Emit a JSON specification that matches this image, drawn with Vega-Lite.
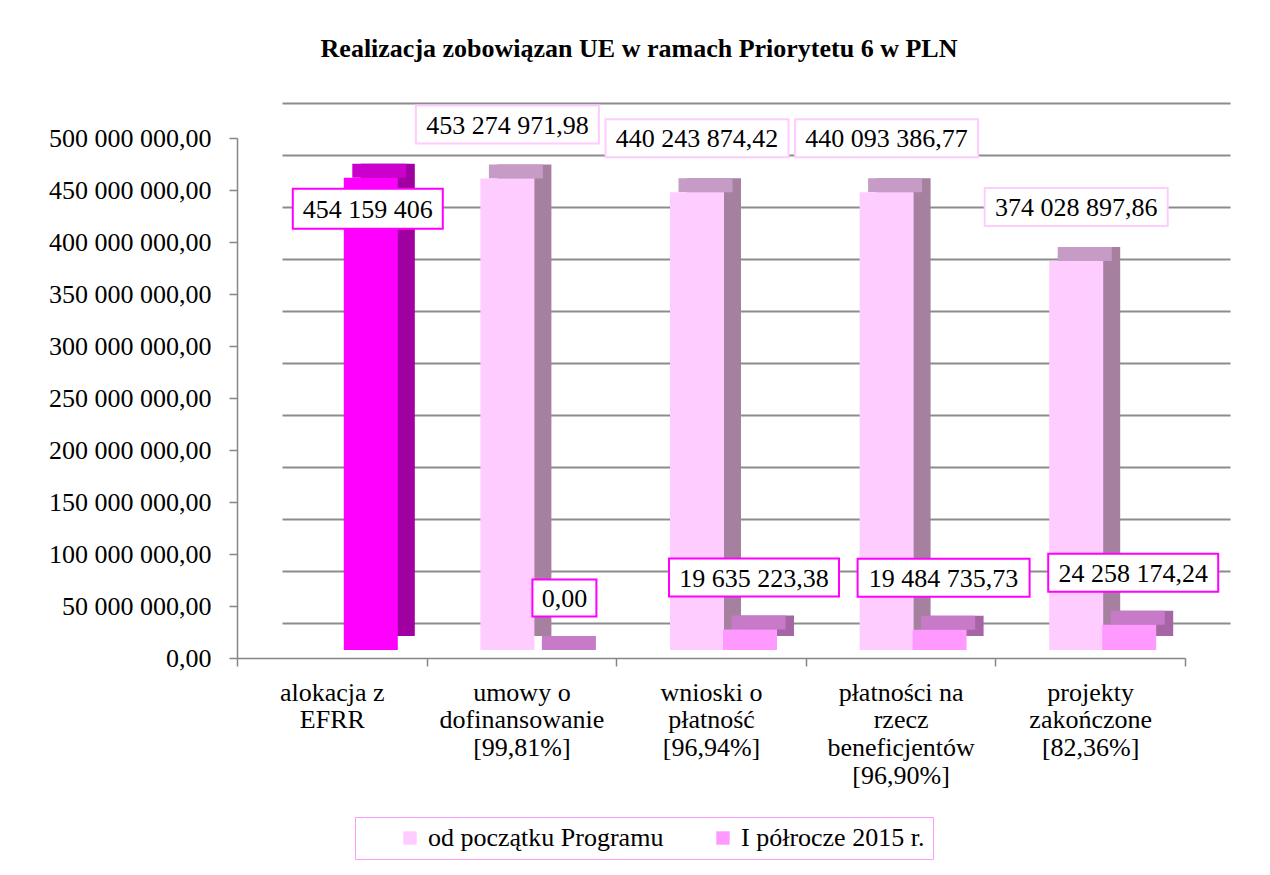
{
  "$schema": "https://vega.github.io/schema/vega-lite/v6.json",
  "width": 948,
  "height": 520,
  "autosize": {"type": "none"},
  "padding": {"left": 237, "top": 130, "right": 85, "bottom": 225},
  "background": "white",
  "title": {
    "text": "Realizacja zobowiązan UE w ramach Priorytetu 6 w PLN",
    "font": "Liberation Serif",
    "fontSize": 26,
    "fontWeight": "bold",
    "color": "black",
    "anchor": "middle",
    "dx": -72,
    "offset": 40
  },
  "config": {
    "locale": {"number": {"decimal": ",", "thousands": " ", "grouping": [3], "currency": ["", " zł"]}},
    "view": {"stroke": null},
    "font": "Liberation Serif"
  },
  "data": {
    "values": [
      {"category": "alokacja z\nEFRR", "series": "alokacja z EFRR", "value": 454159406},
      {"category": "umowy o\ndofinansowanie\n[99,81%]", "series": "od początku Programu", "value": 453274971.98},
      {"category": "umowy o\ndofinansowanie\n[99,81%]", "series": "I półrocze 2015 r.", "value": 0},
      {"category": "wnioski o\npłatność\n[96,94%]", "series": "od początku Programu", "value": 440243874.42},
      {"category": "wnioski o\npłatność\n[96,94%]", "series": "I półrocze 2015 r.", "value": 19635223.38},
      {"category": "płatności na\nrzecz\nbeneficjentów\n[96,90%]", "series": "od początku Programu", "value": 440093386.77},
      {"category": "płatności na\nrzecz\nbeneficjentów\n[96,90%]", "series": "I półrocze 2015 r.", "value": 19484735.73},
      {"category": "projekty\nzakończone\n[82,36%]", "series": "od początku Programu", "value": 374028897.86},
      {"category": "projekty\nzakończone\n[82,36%]", "series": "I półrocze 2015 r.", "value": 24258174.24}
    ]
  },
  "resolve": {"scale": {"x": "independent", "y": "independent"}},
  "layer": [
    {
      "mark": {"type": "point", "opacity": 0},
      "encoding": {
        "x": {"field": "category", "type": "nominal", "sort": null, "scale": {"range": [45, 993]}, "axis": null},
        "y": {
          "field": "value", "type": "quantitative",
          "scale": {"domain": [0, 500000000], "range": [493, -27]},
          "axis": {"orient": "left", "values": [0, 50000000, 100000000, 150000000, 200000000, 250000000, 300000000, 350000000, 400000000, 450000000, 500000000], "grid": true, "gridColor": "#8c8c8c", "gridWidth": 2, "labels": false, "ticks": false, "domain": false, "title": null}
        }
      }
    },
    {
      "mark": {"type": "point", "opacity": 0},
      "encoding": {
        "y": {
          "field": "value", "type": "quantitative",
          "scale": {"domain": [0, 500000000], "range": [528, 8]},
          "axis": {"orient": "left", "values": [0, 50000000, 100000000, 150000000, 200000000, 250000000, 300000000, 350000000, 400000000, 450000000, 500000000], "format": ",.2f", "grid": false, "title": null, "labelFont": "Liberation Serif", "labelFontSize": 26, "labelColor": "black", "tickSize": 8, "tickColor": "#868686", "tickWidth": 1.5, "domainColor": "#868686", "domainWidth": 1.5, "labelPadding": 18, "labelOverlap": false}
        }
      }
    },
    {
      "encoding": {
        "x": {
          "field": "category", "type": "nominal",
          "scale": {"domain": ["alokacja z\nEFRR", "umowy o\ndofinansowanie\n[99,81%]", "wnioski o\npłatność\n[96,94%]", "płatności na\nrzecz\nbeneficjentów\n[96,90%]", "projekty\nzakończone\n[82,36%]"], "paddingInner": 0, "paddingOuter": 0},
          "axis": {"orient": "bottom", "offset": 8, "title": null, "labelExpr": "split(datum.label, '\\n')", "labelFont": "Liberation Serif", "labelFontSize": 26, "labelColor": "black", "labelLineHeight": 27.7, "labelPadding": 13, "labelAngle": 0, "labelLimit": 400, "labelOverlap": false, "tickBand": "extent", "tickSize": 8, "tickColor": "#868686", "tickWidth": 1.5, "domainColor": "#868686", "domainWidth": 1.5}
        },
        "y": {"field": "value", "type": "quantitative", "scale": {"domain": [0, 500000000]}, "axis": null}
      },
      "layer": [
        {
          "transform": [{"filter": "datum.series === 'od początku Programu'"}],
          "mark": {"type": "bar", "width": 54, "xOffset": 3, "yOffset": -14, "y2Offset": -14},
          "encoding": {"y2": {"datum": 0}, "color": {"value": "#a6809f"}}
        },
        {
          "transform": [{"filter": "datum.series === 'od początku Programu'"}],
          "mark": {"type": "bar", "width": 54, "xOffset": -5.5, "yOffset": -14, "y2Offset": 0},
          "encoding": {"y2": {"field": "value"}, "color": {"value": "#c69bc6"}}
        },
        {
          "transform": [{"filter": "datum.series !== 'od początku Programu'"}],
          "mark": {"type": "bar", "width": 54, "xOffset": 56, "yOffset": -14, "y2Offset": -14},
          "encoding": {"y2": {"datum": 0}, "color": {"condition": {"test": "datum.series === 'alokacja z EFRR'", "value": "#a000a0"}, "value": "#a666a6"}}
        },
        {
          "transform": [{"filter": "datum.series === 'od początku Programu'"}],
          "mark": {"type": "bar", "width": 54, "xOffset": -14},
          "encoding": {
            "y2": {"datum": 0},
            "color": {
              "field": "series", "type": "nominal",
              "scale": {"domain": ["od początku Programu", "I półrocze 2015 r.", "alokacja z EFRR"], "range": ["#ffccff", "#ff99ff", "#ff00ff"]},
              "legend": {"values": ["od początku Programu", "I półrocze 2015 r."], "orient": "none", "legendX": 118, "legendY": 687, "direction": "horizontal", "title": null, "symbolType": "square", "symbolSize": 180, "symbolStrokeWidth": 0, "symbolOpacity": 1, "labelFont": "Liberation Serif", "labelFontSize": 26, "labelColor": "black", "labelOffset": 5, "labelLimit": 400, "symbolOffset": 34, "columnPadding": 12, "padding": 8, "strokeColor": "#ff99ff", "fillColor": "white"}
            }
          }
        },
        {
          "transform": [{"filter": "datum.series !== 'od początku Programu'"}],
          "mark": {"type": "bar", "width": 54, "xOffset": 47.5, "yOffset": -14, "y2Offset": 0},
          "encoding": {"y2": {"field": "value"}, "color": {"condition": {"test": "datum.series === 'alokacja z EFRR'", "value": "#cc00cc"}, "value": "#c77ac7"}}
        },
        {
          "transform": [{"filter": "datum.series !== 'od początku Programu'"}],
          "mark": {"type": "bar", "width": 54, "xOffset": 39},
          "encoding": {"y2": {"datum": 0}, "color": {"field": "series", "type": "nominal"}}
        },
        {
          "transform": [{"filter": "datum.series === 'od początku Programu'"}],
          "mark": {"type": "point", "shape": "M-0.915,-0.19H0.915V0.19H-0.915Z", "size": 40000, "filled": true, "fill": "white", "stroke": "#ffccff", "strokeWidth": 2, "opacity": 1, "xOffset": -14, "yOffset": -54}
        },
        {
          "transform": [{"filter": "datum.series === 'od początku Programu'"}],
          "mark": {"type": "text", "font": "Liberation Serif", "fontSize": 26, "color": "black", "align": "center", "baseline": "middle", "xOffset": -14, "yOffset": -53},
          "encoding": {"text": {"field": "value", "type": "quantitative", "format": ",.2f"}}
        },
        {
          "transform": [{"filter": "datum.series === 'I półrocze 2015 r.'"}],
          "mark": {"type": "point", "size": 40000, "filled": true, "fill": "white", "stroke": "#ff00ff", "strokeWidth": 2, "opacity": 1, "xOffset": 43, "yOffset": -52},
          "encoding": {
            "shape": {
              "field": "category", "type": "nominal",
              "scale": {"domain": ["umowy o\ndofinansowanie\n[99,81%]", "wnioski o\npłatność\n[96,94%]", "płatności na\nrzecz\nbeneficjentów\n[96,90%]", "projekty\nzakończone\n[82,36%]"], "range": ["M-0.32,-0.185H0.32V0.185H-0.32Z", "M-0.85,-0.19H0.85V0.19H-0.85Z", "M-0.86,-0.19H0.86V0.19H-0.86Z", "M-0.85,-0.19H0.85V0.19H-0.85Z"]},
              "legend": null
            }
          }
        },
        {
          "transform": [{"filter": "datum.series === 'I półrocze 2015 r.'"}],
          "mark": {"type": "text", "font": "Liberation Serif", "fontSize": 26, "color": "black", "align": "center", "baseline": "middle", "xOffset": 43, "yOffset": -51},
          "encoding": {"text": {"field": "value", "type": "quantitative", "format": ",.2f"}}
        },
        {
          "transform": [{"filter": "datum.series === 'alokacja z EFRR'"}],
          "mark": {"type": "point", "shape": "M-0.75,-0.2H0.75V0.2H-0.75Z", "size": 40000, "filled": true, "fill": "white", "stroke": "#ff00ff", "strokeWidth": 2, "opacity": 1, "xOffset": 36, "yOffset": 31}
        },
        {
          "transform": [{"filter": "datum.series === 'alokacja z EFRR'"}],
          "mark": {"type": "text", "font": "Liberation Serif", "fontSize": 26, "color": "black", "align": "center", "baseline": "middle", "xOffset": 36, "yOffset": 32},
          "encoding": {"text": {"field": "value", "type": "quantitative", "format": ",.0f"}}
        }
      ]
    }
  ]
}
